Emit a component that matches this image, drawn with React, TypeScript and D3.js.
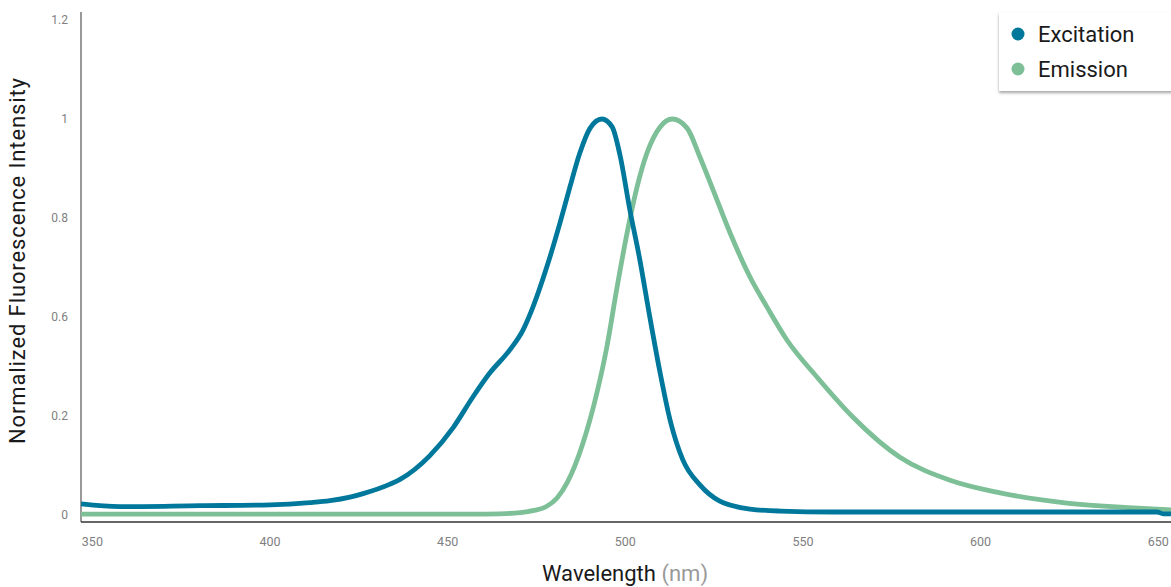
import * as d3 from "d3";
import { useEffect, useRef } from "react";

// excitation spectrum (wavelength nm, normalized intensity)
const exWavelength = [
  346.8, 357.7, 380.3, 400, 411.2, 416.9, 422.5, 426.2, 433.8, 436.6, 445, 451.5, 457.1, 461.9,
  467.5, 471.2, 474, 477.9, 481.6, 484.4, 487.2, 490.1, 493.4, 496.3, 498.5, 501.3, 504.1, 506.9,
  509.8, 512.6, 516.2, 521, 526.6, 535.1, 543.6, 558.5, 614.8, 649.7, 651.4, 653.6,
];
const exValue = [
  0.028, 0.021, 0.0235, 0.0255, 0.031, 0.036, 0.045, 0.054, 0.078, 0.09, 0.15, 0.22, 0.298,
  0.359, 0.417, 0.467, 0.525, 0.626, 0.737, 0.828, 0.914, 0.977, 1.0, 0.98, 0.909, 0.77, 0.644,
  0.5, 0.359, 0.24, 0.139, 0.076, 0.035, 0.015, 0.01, 0.0076, 0.0076, 0.0076, 0.003, 0.003,
];

// emission spectrum
const emWavelength = [
  346.8, 456.3, 464.7, 470.4, 474, 477.9, 480.8, 483.6, 488.1, 492, 494.8, 497.7, 500.5, 503.3,
  506.1, 509.8, 513.2, 517.4, 521, 524.7, 529.5, 535.1, 539.9, 545.5, 554, 564.1, 577.3, 591.4,
  605.5, 624.3, 642.9, 653.6,
];
const emValue = [
  0.002, 0.002, 0.003, 0.006, 0.011, 0.022, 0.043, 0.081, 0.182, 0.308, 0.424, 0.576, 0.712, 0.828,
  0.914, 0.98, 1.0, 0.977, 0.904, 0.821, 0.712, 0.601, 0.525, 0.442, 0.348, 0.247, 0.146, 0.088,
  0.056, 0.03, 0.018, 0.013,
];

const xTicks = [350, 400, 450, 500, 550, 600, 650];
const yTickLabels = ["0", "0.2", "0.6", "0.8", "1", "1.2"];

const seriesNames = ["Excitation", "Emission"];
const seriesColors = ["#00789c", "#7dbf97"];

export default function App() {
  const ref = useRef<SVGSVGElement>(null);

  useEffect(() => {
    const svg = d3.select(ref.current);
    const width = 1171;
    const font = "Roboto, 'DejaVu Sans', sans-serif";

    svg.selectAll("*").remove();

    const x = d3.scaleLinear().domain([346.8, 653.6]).range([81, 1171]);
    const y = d3.scaleLinear().domain([0, 1]).range([515, 119]);
    // the tick labels sit evenly spaced, independent of the data scale
    const yTick = d3
      .scaleLinear()
      .domain([0, yTickLabels.length - 1])
      .range([515, 20]);

    const defs = svg.append("defs");
    defs
      .append("clipPath")
      .attr("id", "plot")
      .append("rect")
      .attr("x", 81)
      .attr("y", 0)
      .attr("width", width - 81)
      .attr("height", 522);
    const shadow = defs.append("filter").attr("id", "shadow").attr("height", "140%");
    shadow
      .append("feDropShadow")
      .attr("dx", 0)
      .attr("dy", 2)
      .attr("stdDeviation", 1.5)
      .attr("flood-color", "#000")
      .attr("flood-opacity", 0.35);

    // y tick labels
    svg
      .append("g")
      .selectAll("text")
      .data(yTickLabels)
      .join("text")
      .attr("x", 68)
      .attr("y", (_, i) => yTick(i))
      .attr("dy", "0.35em")
      .attr("text-anchor", "end")
      .attr("font-family", font)
      .attr("font-size", 12)
      .attr("fill", "#808080")
      .text((d) => d);

    // x tick labels
    svg
      .append("g")
      .selectAll("text")
      .data(xTicks)
      .join("text")
      .attr("x", (d) => x(d))
      .attr("y", 542)
      .attr("dy", "0.35em")
      .attr("text-anchor", "middle")
      .attr("font-family", font)
      .attr("font-size", 12.5)
      .attr("fill", "#808080")
      .text((d) => d);

    // axis lines
    svg
      .append("line")
      .attr("x1", 81)
      .attr("x2", 81)
      .attr("y1", 12)
      .attr("y2", 522)
      .attr("stroke", "#777")
      .attr("stroke-width", 1.5);
    svg
      .append("line")
      .attr("x1", 81)
      .attr("x2", width)
      .attr("y1", 522)
      .attr("y2", 522)
      .attr("stroke", "#333")
      .attr("stroke-width", 1.5);

    const line = d3
      .line<[number, number]>()
      .x((d) => x(d[0]))
      .y((d) => y(d[1]))
      .curve(d3.curveMonotoneX);

    const series: [number, number][][] = [
      exWavelength.map((w, i) => [w, exValue[i]]),
      emWavelength.map((w, i) => [w, emValue[i]]),
    ];

    svg
      .append("g")
      .attr("clip-path", "url(#plot)")
      .selectAll("path")
      .data([series[1], series[0]])
      .join("path")
      .attr("fill", "none")
      .attr("stroke", (_, i) => (i === 0 ? seriesColors[1] : seriesColors[0]))
      .attr("stroke-width", 4.8)
      .attr("stroke-linejoin", "round")
      .attr("d", line);

    // axis titles
    svg
      .append("text")
      .attr("transform", "translate(25,261) rotate(-90)")
      .attr("text-anchor", "middle")
      .attr("font-family", font)
      .attr("font-size", 22)
      .attr("textLength", 366)
      .attr("lengthAdjust", "spacing")
      .attr("fill", "#1a1a1a")
      .text("Normalized Fluorescence Intensity");

    const xt = svg
      .append("text")
      .attr("x", 625)
      .attr("y", 581)
      .attr("text-anchor", "middle")
      .attr("font-family", font)
      .attr("font-size", 22)
      .attr("fill", "#1a1a1a");
    xt.append("tspan").text("Wavelength ");
    xt.append("tspan").attr("fill", "#999").text("(nm)");

    // legend
    const legend = svg.append("g");
    legend
      .append("rect")
      .attr("x", 999)
      .attr("y", 12)
      .attr("width", 190)
      .attr("height", 79)
      .attr("fill", "#fff")
      .attr("filter", "url(#shadow)");
    const item = legend
      .selectAll("g.item")
      .data(seriesNames)
      .join("g")
      .attr("class", "item")
      .attr("transform", (_, i) => `translate(0,${34 + i * 35})`);
    item
      .append("circle")
      .attr("cx", 1018)
      .attr("cy", 0)
      .attr("r", 6.5)
      .attr("fill", (_, i) => seriesColors[i]);
    item
      .append("text")
      .attr("x", 1038)
      .attr("y", 0)
      .attr("dy", "0.35em")
      .attr("font-family", font)
      .attr("font-size", 22)
      .attr("fill", "#1a1a1a")
      .text((d) => d);
  }, []);

  return (
    <svg
      ref={ref}
      width={1171}
      height={587}
      style={{ position: "absolute", left: 0, top: 0, background: "#fff" }}
    />
  );
}
